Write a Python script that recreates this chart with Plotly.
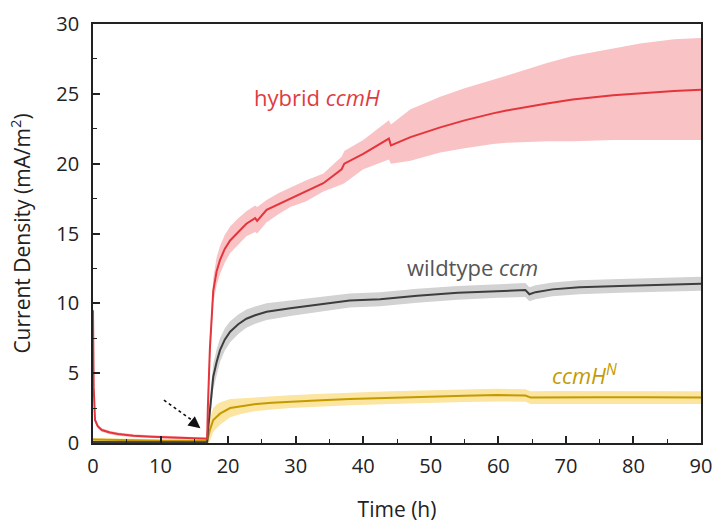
import plotly.graph_objects as go

# ---------------- data ----------------
# hybrid ccmH
t_red = [0, 0.1, 0.3, 0.7, 1.3, 2.5, 3.7, 6, 8.7, 12, 16.9, 17.0, 17.3, 17.8, 18.3, 18.8, 19.5, 20.3,
         21.5, 22.7, 24.0, 24.3, 25.7, 27.5, 29.2, 31.5, 34.1, 36.8, 37.2, 40, 43.8, 44.1, 47, 51.4,
         55, 59.2, 61.2, 67.2, 71, 77, 81, 86, 90]
m_red = [9.5, 4.0, 1.65, 1.2, 0.93, 0.75, 0.64, 0.52, 0.45, 0.38, 0.30, 2.5, 6.7, 10.9, 12.3, 13.1, 13.9,
         14.5, 15.1, 15.7, 16.1, 15.9, 16.7, 17.1, 17.5, 18.0, 18.6, 19.6, 20.0, 20.7, 21.8, 21.3, 21.9,
         22.6, 23.1, 23.6, 23.8, 24.3, 24.6, 24.9, 25.05, 25.2, 25.3]
lo_red = [9.0, 3.6, 1.45, 1.05, 0.8, 0.62, 0.52, 0.42, 0.35, 0.28, 0.2, 1.5, 5.8, 10.0, 11.3, 12.1, 12.9,
          13.6, 14.2, 14.8, 15.1, 15.0, 15.8, 16.4, 16.9, 17.3, 18.0, 18.5, 18.6, 19.6, 20.3, 20.0, 20.2,
          20.8, 21.1, 21.4, 21.5, 21.6, 21.6, 21.7, 21.7, 21.7, 21.7]
hi_red = [10.0, 4.4, 1.85, 1.35, 1.06, 0.88, 0.76, 0.62, 0.55, 0.48, 0.4, 3.5, 7.6, 11.8, 13.3, 14.1, 14.9,
          15.5, 16.1, 16.6, 17.0, 16.9, 17.4, 17.9, 18.3, 18.8, 19.3, 20.5, 20.9, 21.7, 23.1, 22.8, 23.9,
          24.8, 25.4, 26.0, 26.3, 27.2, 27.7, 28.25, 28.6, 28.9, 29.0]

# wildtype ccm
t_gray = [0, 5, 10, 16.9, 17.0, 17.3, 17.8, 18.3, 18.8, 19.5, 20.3, 21.5, 22.7, 24, 25.7, 29.2, 34.1,
          38, 42.5, 48, 54, 60, 64.0, 64.6, 65.5, 68, 72, 78, 84, 90]
m_gray = [0.08, 0.06, 0.05, 0.05, 0.8, 2.4, 4.75, 5.8, 6.65, 7.4, 7.97, 8.5, 8.9, 9.15, 9.4, 9.65, 9.95,
          10.2, 10.3, 10.55, 10.75, 10.9, 10.95, 10.65, 10.8, 11.0, 11.15, 11.25, 11.35, 11.4]
hw_gray = [0.1, 0.1, 0.1, 0.1, 0.6, 0.9, 0.9, 0.9, 0.85, 0.8, 0.75, 0.7, 0.65, 0.62, 0.6, 0.55, 0.52,
           0.5, 0.5, 0.5, 0.5, 0.5, 0.5, 0.5, 0.5, 0.5, 0.5, 0.5, 0.5, 0.5]

# ccmH^N
t_gold = [0, 5, 10, 16.9, 17.0, 17.3, 17.8, 18.3, 18.8, 20.3, 22, 24.2, 26.5, 29.2, 33, 38, 44, 50, 55,
          59.8, 64.0, 64.8, 68, 75, 82, 89.4, 90]
m_gold = [0.25, 0.2, 0.17, 0.15, 0.4, 0.93, 1.65, 1.9, 2.1, 2.5, 2.65, 2.8, 2.88, 2.96, 3.05, 3.15, 3.25,
          3.33, 3.38, 3.43, 3.4, 3.25, 3.27, 3.28, 3.28, 3.25, 3.25]
hw_gold = [0.1, 0.1, 0.1, 0.1, 0.4, 0.8, 0.85, 0.85, 0.8, 0.65, 0.55, 0.5, 0.48, 0.46, 0.45, 0.45, 0.45,
           0.45, 0.45, 0.45, 0.45, 0.45, 0.45, 0.45, 0.45, 0.45, 0.45]

x_ticks = [0, 10, 20, 30, 40, 50, 60, 70, 80, 90]
y_ticks = [0, 5, 10, 15, 20, 25, 30]

# ---------------- figure ----------------
FONT = "Open Sans, Noto Sans, DejaVu Sans, sans-serif"

RED, RED_BAND = "#e3353b", "#f9c2c5"
GRAY, GRAY_BAND = "#3d3d3d", "#d2d2d2"
GOLD, GOLD_BAND = "#c39b00", "#fbe5a0"

fig = go.Figure()


def band(t, lo, hi, color):
    fig.add_trace(go.Scatter(x=list(t) + list(t)[::-1], y=list(hi) + list(lo)[::-1],
                             fill="toself", fillcolor=color, line=dict(width=0),
                             mode="lines", hoverinfo="skip", showlegend=False))


band(t_red, lo_red, hi_red, RED_BAND)
band(t_gray, [m - h for m, h in zip(m_gray, hw_gray)], [m + h for m, h in zip(m_gray, hw_gray)], GRAY_BAND)
band(t_gold, [m - h for m, h in zip(m_gold, hw_gold)], [m + h for m, h in zip(m_gold, hw_gold)], GOLD_BAND)

fig.add_trace(go.Scatter(x=t_gold, y=m_gold, mode="lines", line=dict(color=GOLD, width=2), showlegend=False))
fig.add_trace(go.Scatter(x=t_gray, y=m_gray, mode="lines", line=dict(color=GRAY, width=2), showlegend=False))
fig.add_trace(go.Scatter(x=t_red, y=m_red, mode="lines", line=dict(color=RED, width=2), showlegend=False))

# labels
fig.add_annotation(x=33.2, y=24.8, text="hybrid <i>ccmH</i>", showarrow=False,
                   font=dict(family=FONT, size=22, color="#e03c3f"))
fig.add_annotation(x=56.2, y=12.6, text="wildtype <i>ccm</i>", showarrow=False,
                   font=dict(family=FONT, size=22, color="#555555"))
fig.add_annotation(x=72.8, y=4.9, text="<i>ccmH<sup>N</sup></i>", showarrow=False,
                   font=dict(family=FONT, size=22, color="#c39b00"))

# dotted arrow
fig.add_shape(type="line", x0=10.5, y0=3.07, x1=15.2, y1=1.45,
              line=dict(color="#111111", width=1.6, dash="dot"))
fig.add_annotation(x=15.9, y=1.05, ax=-10, ay=-8, text="", showarrow=True,
                   arrowhead=2, arrowsize=1.7, arrowwidth=1.4, arrowcolor="#111111")

axis_common = dict(showline=True, linecolor="#222222", linewidth=1.6, mirror=True,
                   ticks="inside", ticklen=7, tickwidth=1.6, tickcolor="#222222",
                   showgrid=False, zeroline=False, automargin=False,
                   tickfont=dict(family=FONT, size=20, color="#222222"))

fig.update_xaxes(range=[0, 90], tickvals=x_ticks, ticktext=[str(v) for v in x_ticks],
                 ticklabelstandoff=4,
                 minor=dict(ticks="inside", ticklen=4, tickwidth=1.4, tickcolor="#222222", dtick=5,
                            tick0=0, showgrid=False),
                 title=dict(text="Time (h)", font=dict(family=FONT, size=21, color="#222222"), standoff=28),
                 **axis_common)
fig.update_yaxes(range=[0, 30], tickvals=y_ticks, ticktext=[str(v) for v in y_ticks],
                 ticklabelstandoff=8,
                 minor=dict(ticks="inside", ticklen=4, tickwidth=1.4, tickcolor="#222222", dtick=2.5,
                            tick0=0, showgrid=False),
                 title=dict(text="Current Density (mA/m<sup>2</sup>)",
                            font=dict(family=FONT, size=21, color="#222222"), standoff=20),
                 **axis_common)

fig.update_layout(width=715, height=523, margin=dict(l=93, r=14, t=24, b=80),
                  paper_bgcolor="white", plot_bgcolor="white", showlegend=False,
                  font=dict(family=FONT))

fig.write_html("out.html", config={"displayModeBar": False},
               post_script="document.body.style.margin='0';")
